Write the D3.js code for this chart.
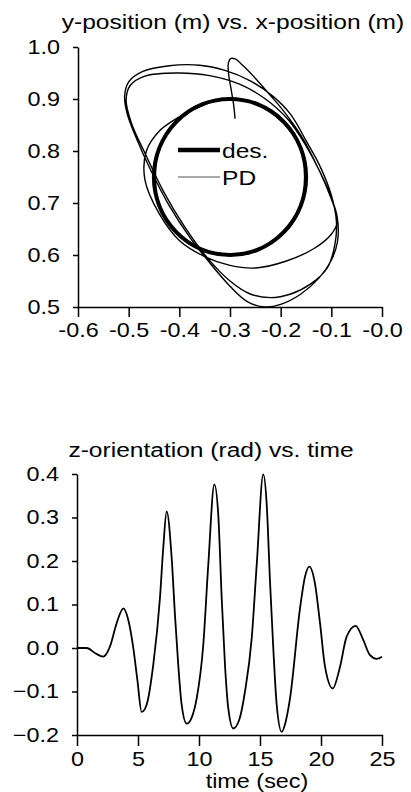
<!DOCTYPE html>
<html>
<head>
<meta charset="utf-8">
<script src="https://cdn.jsdelivr.net/npm/d3@7"></script>
<style>
  html, body { margin: 0; padding: 0; background: #fff; }
  svg { display: block; }
  text { font-family: "Liberation Sans", Arial, Helvetica, sans-serif; fill: #000; }
</style>
</head>
<body>
<svg id="chart" width="411" height="792"></svg>
<script>
// ---------- DATA ----------
// Top plot: desired circle
const desCenter = [-0.3, 0.75];
const desRadius = 0.15;
// Top plot: PD trajectory (x, y)
const pdX = [-0.290,-0.293,-0.298,-0.303,-0.303,-0.298,-0.290,-0.275,-0.250,-0.225,-0.196,
  -0.160,-0.130,-0.105,-0.088,-0.088,-0.100,-0.125,-0.160,-0.200,-0.230,-0.265,-0.300,-0.340,-0.380,-0.420,-0.455,-0.485,-0.503,-0.508,-0.500,-0.472,-0.420,-0.360,-0.310,-0.260,-0.215,-0.180,
  -0.150,-0.122,-0.100,-0.090,-0.093,-0.108,-0.140,-0.180,-0.220,-0.260,-0.300,-0.345,-0.390,-0.430,-0.465,-0.495,-0.505,-0.497,-0.468,-0.405,-0.340,-0.280,-0.230,-0.185,-0.150,-0.120,-0.098,-0.088,
  -0.100,-0.135,-0.190,-0.250,-0.300,-0.350,-0.400,-0.440,-0.468,-0.465,-0.440,-0.413,-0.375,-0.340];
const pdY = [0.862,0.890,0.920,0.950,0.970,0.978,0.977,0.965,0.940,0.912,0.879,
  0.830,0.775,0.720,0.670,0.625,0.590,0.555,0.525,0.505,0.500,0.510,0.540,0.585,0.635,0.695,0.760,0.825,0.872,0.905,0.933,0.953,0.964,0.965,0.955,0.935,0.905,0.870,
  0.820,0.770,0.715,0.665,0.620,0.575,0.545,0.525,0.518,0.525,0.550,0.595,0.655,0.720,0.790,0.855,0.898,0.926,0.944,0.950,0.945,0.928,0.900,0.860,0.810,0.755,0.705,0.665,
  0.640,0.612,0.588,0.575,0.580,0.597,0.628,0.680,0.745,0.800,0.838,0.858,0.878,0.893];
const topXTicks = [-0.6,-0.5,-0.4,-0.3,-0.2,-0.1,0.0];
const topXTickLabels = ["-0.6","-0.5","-0.4","-0.3","-0.2","-0.1","-0.0"];
const topYTicks = [0.5,0.6,0.7,0.8,0.9,1.0];
const legendLabels = ["des.", "PD"];

// Bottom plot: z-orientation vs time
const times = [0,0.8,1.5,2.15,2.7,3.25,3.8,4.2,4.6,4.95,5.3,5.7,6.25,6.8,7.07,7.35,7.76,8.03,8.3,8.58,8.99,9.4,9.81,10.35,10.76,11.26,11.58,11.86,12.13,12.4,12.81,13.3,13.77,14.32,14.73,15.27,15.55,15.82,16.09,16.37,16.78,17.1,17.46,18.28,18.69,19.04,19.5,19.92,20.33,20.96,21.56,22.1,22.84,23.47,24.0,24.56,25.0];
const zOrient = [0,0,-0.012,-0.02,0.003,0.057,0.091,0.065,0.003,-0.074,-0.147,-0.131,-0.039,0.115,0.23,0.314,0.207,0.076,-0.039,-0.131,-0.174,-0.16,-0.116,0.007,0.191,0.376,0.306,0.115,-0.039,-0.139,-0.185,-0.165,-0.1,0.022,0.191,0.399,0.33,0.153,-0.001,-0.131,-0.193,-0.17,-0.116,0.091,0.164,0.187,0.149,0.057,-0.043,-0.093,-0.043,0.026,0.051,0.018,-0.016,-0.025,-0.02];
const botXTicks = [0,5,10,15,20,25];
const botYTicks = [-0.2,-0.1,0.0,0.1,0.2,0.3,0.4];

// ---------- DRAW ----------
const SX = 1.17; // horizontal stretch of the type
const svg = d3.select("#chart");

function styleAxis(g) {
  g.selectAll("path.domain").attr("stroke", "#000").attr("stroke-width", 1.5);
  g.selectAll(".tick line").attr("stroke", "#000").attr("stroke-width", 1.5);
  g.selectAll("text").attr("font-size", 20).attr("font-family", null);
}
function stretchBottomLabels(g, offset) {
  g.selectAll(".tick text").attr("y", offset).attr("dy", 0)
    .attr("transform", `scale(${SX},1)`);
}
function stretchLeftLabels(g, gap) {
  g.selectAll(".tick text").attr("x", -gap / SX)
    .attr("transform", `scale(${SX},1)`);
}
function title(txt, cx, by) {
  svg.append("text").attr("text-anchor", "middle").attr("font-size", 21)
    .attr("transform", `translate(${cx},${by}) scale(${SX},1)`).text(txt);
}

// ----- Top chart -----
const x1 = d3.scaleLinear().domain([-0.6, 0.0]).range([78, 382]);
const y1 = d3.scaleLinear().domain([0.5, 1.0]).range([307, 47]);

title("y-position (m) vs. x-position (m)", 233, 29);

const gx1 = svg.append("g").attr("transform", "translate(0,307)")
  .call(d3.axisBottom(x1).tickValues(topXTicks).tickFormat((d, i) => topXTickLabels[i]).tickSize(10).tickSizeOuter(0));
styleAxis(gx1); stretchBottomLabels(gx1, 30);
const gy1 = svg.append("g").attr("transform", "translate(78,0)")
  .call(d3.axisLeft(y1).tickValues(topYTicks).tickFormat(d3.format(".1f")).tickSize(5).tickSizeOuter(0));
styleAxis(gy1); stretchLeftLabels(gy1, 18);

// desired circle
svg.append("ellipse")
  .attr("cx", x1(desCenter[0])).attr("cy", y1(desCenter[1]))
  .attr("rx", x1(desCenter[0] + desRadius) - x1(desCenter[0]))
  .attr("ry", y1(desCenter[1] - desRadius) - y1(desCenter[1]))
  .attr("fill", "none").attr("stroke", "#000").attr("stroke-width", 4.2);

// PD trajectory
const pdPts = pdX.map((v, i) => [v, pdY[i]]);
svg.append("path").datum(pdPts)
  .attr("d", d3.line().x(d => x1(d[0])).y(d => y1(d[1])).curve(d3.curveCatmullRom.alpha(0.5)))
  .attr("fill", "none").attr("stroke", "#000").attr("stroke-width", 1.4);

// legend
const leg = svg.append("g");
leg.append("line").attr("x1", 178).attr("x2", 220).attr("y1", 150).attr("y2", 150)
  .attr("stroke", "#000").attr("stroke-width", 4.5);
leg.append("line").attr("x1", 178).attr("x2", 220).attr("y1", 177).attr("y2", 177)
  .attr("stroke", "#555").attr("stroke-width", 1);
leg.selectAll("text.lg").data(legendLabels).join("text").attr("class", "lg")
  .attr("font-size", 21)
  .attr("transform", (d, i) => `translate(222,${158 + i * 27}) scale(${SX},1)`)
  .text(d => d);

// ----- Bottom chart -----
const x2 = d3.scaleLinear().domain([0, 25]).range([77, 382]);
const y2 = d3.scaleLinear().domain([-0.2, 0.4]).range([735, 474]);

title("z-orientation (rad) vs. time", 211, 457);

const gx2 = svg.append("g").attr("transform", "translate(0,735)")
  .call(d3.axisBottom(x2).tickValues(botXTicks).tickFormat(d3.format("d")).tickSize(11).tickSizeOuter(0));
styleAxis(gx2); stretchBottomLabels(gx2, 31);
const gy2 = svg.append("g").attr("transform", "translate(77,0)")
  .call(d3.axisLeft(y2).tickValues(botYTicks).tickFormat(d3.format(".1f")).tickSize(5).tickSizeOuter(0));
styleAxis(gy2); stretchLeftLabels(gy2, 18);

svg.append("text").attr("text-anchor", "middle").attr("font-size", 20)
  .attr("transform", `translate(257,788) scale(${SX},1)`).text("time (sec)");

const tsPts = times.map((t, i) => [t, zOrient[i]]);
svg.append("path").datum(tsPts)
  .attr("d", d3.line().x(d => x2(d[0])).y(d => y2(d[1])).curve(d3.curveMonotoneX))
  .attr("fill", "none").attr("stroke", "#000").attr("stroke-width", 1.8);
</script>
</body>
</html>
